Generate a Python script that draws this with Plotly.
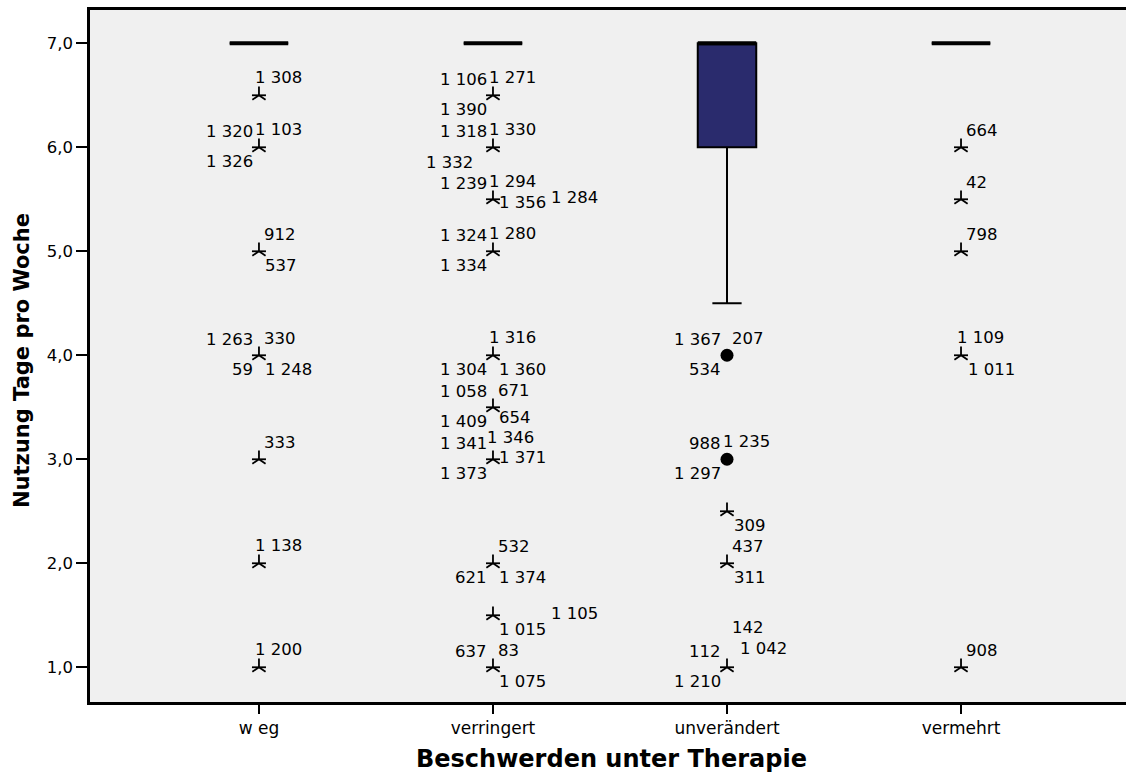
import plotly.graph_objects as go

# ---------------- data ----------------
categories = ["w eg", "verringert", "unverändert", "vermehrt"]

box_q1 = [7.0, 7.0, 6.0, 7.0]
box_median = [7.0, 7.0, 7.0, 7.0]
box_q3 = [7.0, 7.0, 7.0, 7.0]
box_lower = [7.0, 7.0, 4.5, 7.0]
box_upper = [7.0, 7.0, 7.0, 7.0]

# extreme values (asterisks)
extreme_cat = (["w eg"] * 7 + ["verringert"] * 10 + ["unverändert"] * 3 + ["vermehrt"] * 5)
extreme_val = ([6.5, 6.0, 5.0, 4.0, 3.0, 2.0, 1.0] +
               [6.5, 6.0, 5.5, 5.0, 4.0, 3.5, 3.0, 2.0, 1.5, 1.0] +
               [2.5, 2.0, 1.0] +
               [6.0, 5.5, 5.0, 4.0, 1.0])

# outliers (filled circles)
mild_cat = ["unverändert", "unverändert"]
mild_val = [4.0, 3.0]

# case-number labels
label_cat = (["w eg"] * 13 + ["verringert"] * 32 + ["unverändert"] * 13 + ["vermehrt"] * 6)
label_val = [
    6.5, 6.0, 6.0, 6.0, 5.0, 5.0, 4.0, 4.0, 4.0, 4.0, 3.0, 2.0, 1.0,
    6.5, 6.5, 6.5, 6.0, 6.0, 6.0, 5.5, 5.5, 5.5, 5.5, 5.0, 5.0, 5.0,
    4.0, 4.0, 4.0, 3.5, 3.5, 3.5, 3.5, 3.0, 3.0, 3.0, 3.0, 2.0, 2.0, 2.0,
    1.5, 1.5, 1.0, 1.0, 1.0,
    4.0, 4.0, 4.0, 3.0, 3.0, 3.0, 2.5, 2.0, 2.0, 1.0, 1.0, 1.0, 1.0,
    6.0, 5.5, 5.0, 4.0, 4.0, 1.0,
]
label_txt = [
    "1 308", "1 320", "1 103", "1 326", "912", "537", "1 263", "330", "59", "1 248", "333", "1 138", "1 200",
    "1 106", "1 271", "1 390", "1 318", "1 330", "1 332", "1 239", "1 294", "1 356", "1 284",
    "1 324", "1 280", "1 334", "1 316", "1 304", "1 360", "1 058", "671", "1 409", "654",
    "1 341", "1 346", "1 371", "1 373", "532", "621", "1 374", "1 015", "1 105", "637", "83", "1 075",
    "1 367", "207", "534", "988", "1 235", "1 297", "309", "437", "311", "112", "1 210", "142", "1 042",
    "664", "42", "798", "1 109", "1 011", "908",
]
# label placement codes (style, see PLACE below)
label_pos = [
    "ur1", "ul", "ur1", "ll", "ur", "lr", "ul", "ur", "ll", "lr", "ur", "ur1", "ur1",
    "ul", "ur1", "ll", "ul", "ur1", "ll2", "ul", "ur1", "r", "rr",
    "ul", "ur1", "ll", "ur1", "ll", "lr", "ul", "ur", "ll", "lrh",
    "ul", "ur1h", "r0", "ll", "ur", "ll", "lr", "lr", "rr", "ul", "ur", "lr",
    "ul", "ur", "ll", "ul", "ur1", "ll", "lr", "ur", "lr", "ul", "ll", "uu", "urr",
    "ur", "ur", "ur", "ur1", "lr", "ur",
]

y_tickvals = [1, 2, 3, 4, 5, 6, 7]
y_ticktext = ["1,0", "2,0", "3,0", "4,0", "5,0", "6,0", "7,0"]

# ---------------- style ----------------
FONT = "DejaVu Sans"
BOX_FILL = "#2A2B6D"
PLACE = {
    "ur": ("left", 3, 17),
    "ur1": ("left", -6, 18),
    "ul": ("right", -4, 16),
    "ll": ("right", -4, -14.5),
    "lr": ("left", 4.5, -14),
    "lrh": ("left", 4.5, -10),
    "ll2": ("right", -18, -15),
    "r": ("left", 4.5, -3),
    "r0": ("left", 4.5, 2),
    "rr": ("left", 56.5, 1.5),
    "ur1h": ("left", -7.5, 22),
    "urr": ("left", 10.5, 19),
    "uu": ("left", 3, 40),
}

fig = go.Figure()

fig.add_trace(go.Box(
    x=categories, q1=box_q1, median=box_median, q3=box_q3,
    lowerfence=box_lower, upperfence=box_upper,
    width=0.25, whiskerwidth=0.5, boxpoints=False,
    fillcolor=BOX_FILL, line=dict(color="black", width=2),
    hoverinfo="skip", showlegend=False,
))
# thick median lines
fig.add_trace(go.Box(
    x=categories, q1=box_median, median=box_median, q3=box_median,
    lowerfence=box_median, upperfence=box_median,
    width=0.25, whiskerwidth=0, boxpoints=False,
    fillcolor="rgba(0,0,0,0)", line=dict(color="black", width=4),
    hoverinfo="skip", showlegend=False,
))

# asterisks built from two open symbols
fig.add_trace(go.Scatter(
    x=extreme_cat, y=extreme_val, mode="markers",
    marker=dict(symbol="line-ew-open", size=10, color="black",
                line=dict(color="black", width=1.8)),
    hoverinfo="skip", showlegend=False,
))
fig.add_trace(go.Scatter(
    x=extreme_cat, y=extreme_val, mode="markers",
    marker=dict(symbol="y-up-open", size=11, color="black",
                line=dict(color="black", width=1.8)),
    hoverinfo="skip", showlegend=False,
))
fig.add_trace(go.Scatter(
    x=mild_cat, y=mild_val, mode="markers",
    marker=dict(symbol="circle", size=13, color="black", line=dict(width=0)),
    hoverinfo="skip", showlegend=False,
))

annotations = []
for c, v, t, p in zip(label_cat, label_val, label_txt, label_pos):
    xa, xs, ys = PLACE[p]
    annotations.append(dict(
        x=c, y=v, xref="x", yref="y", text=t, showarrow=False,
        xanchor=xa, yanchor="middle", xshift=xs, yshift=ys,
        font=dict(family=FONT, size=16.5, color="black"),
    ))

annotations.append(dict(
    x=0.5, y=0, xref="paper", yref="paper", text="<b>Beschwerden unter Therapie</b>",
    showarrow=False, xanchor="center", yanchor="middle", yshift=-57, xshift=3,
    font=dict(family=FONT, size=24, color="black"),
))
annotations.append(dict(
    x=0, y=0.5, xref="paper", yref="paper", text="<b>Nutzung Tage pro Woche</b>",
    showarrow=False, xanchor="center", yanchor="middle", xshift=-68, yshift=-5,
    textangle=-90, font=dict(family=FONT, size=21, color="black"),
))

fig.update_layout(
    width=1126, height=774,
    margin=dict(l=90, r=0, t=10, b=72),
    paper_bgcolor="white", plot_bgcolor="#F0F0F0",
    boxmode="overlay", showlegend=False,
    annotations=annotations,
    xaxis=dict(
        type="category", categoryorder="array", categoryarray=categories,
        range=[-0.722, 3.705], showline=True, linecolor="black", linewidth=2.5,
        mirror=True, ticks="outside", ticklen=9, tickwidth=2, tickcolor="black",
        tickfont=dict(family=FONT, size=17, color="black"),
        showgrid=False, zeroline=False,
    ),
    yaxis=dict(
        range=[0.666, 7.32], tickvals=y_tickvals, ticktext=y_ticktext,
        showline=True, linecolor="black", linewidth=2.5,
        ticks="outside", ticklen=11, tickwidth=2, tickcolor="black",
        tickfont=dict(family=FONT, size=16.5, color="black"),
        showgrid=False, zeroline=False,
    ),
)

fig.write_html("out.html", config={"displayModeBar": False})
